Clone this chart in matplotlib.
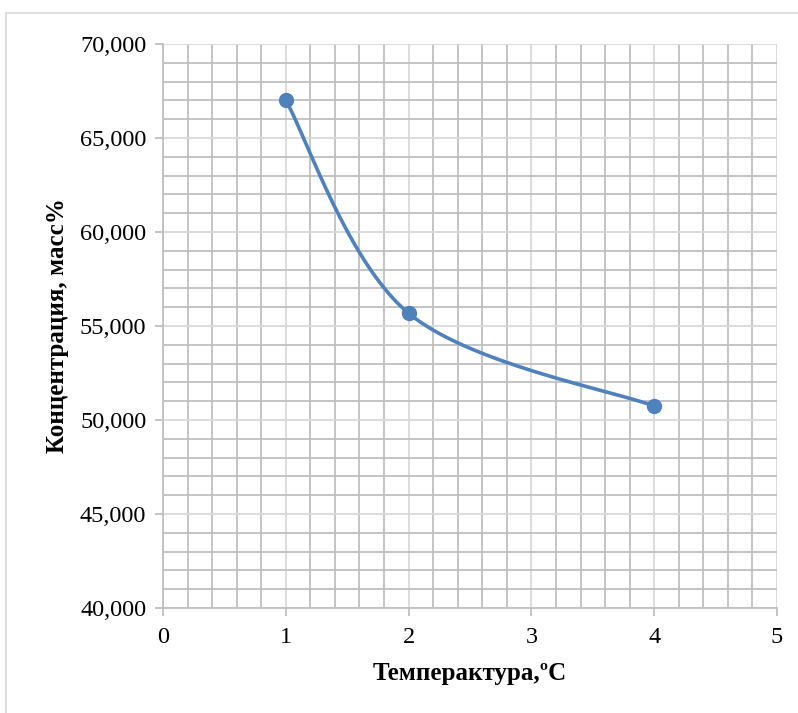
import matplotlib
matplotlib.use('Agg')
import matplotlib.pyplot as plt
import numpy as np
from matplotlib.patches import Rectangle
from matplotlib.ticker import MultipleLocator, FuncFormatter

plt.rcParams['font.family'] = ['Liberation Serif', 'DejaVu Serif']

temp = [1, 2, 4]
conc = [67000, 55680, 50740]


def excel_smooth(x, y, n=60):
    # сглаживание как в Excel (Безье по соседним точкам)
    pts = np.column_stack([x, y]).astype(float)
    ext = np.vstack([pts[0], pts, pts[-1]])
    out = []
    t = np.linspace(0, 1, n)[:, None]
    for i in range(1, len(ext) - 2):
        p0, p1, p2, p3 = ext[i - 1], ext[i], ext[i + 1], ext[i + 2]
        c1 = p1 + (p2 - p0) / 6
        c2 = p2 - (p3 - p1) / 6
        seg = ((1 - t) ** 3) * p1 + 3 * ((1 - t) ** 2) * t * c1 + 3 * (1 - t) * t ** 2 * c2 + t ** 3 * p2
        out.append(seg)
    out = np.vstack(out)
    return out[:, 0], out[:, 1]


fig = plt.figure(figsize=(7.98, 7.13), dpi=100)
fig.patches.append(Rectangle((6 / 798, -0.01), 1.1, 1 - 13 / 713 + 0.01, transform=fig.transFigure,
                             fill=False, edgecolor='#d9d9d9', linewidth=1.2))
ax = fig.add_axes([163 / 798, 1 - 608 / 713, 614 / 798, 564 / 713])

ax.set_xlim(0, 5)
ax.set_ylim(40000, 70000)
ax.xaxis.set_major_locator(MultipleLocator(1))
ax.xaxis.set_minor_locator(MultipleLocator(0.2))
ax.yaxis.set_major_locator(MultipleLocator(5000))
ax.yaxis.set_minor_locator(MultipleLocator(1000))
ax.yaxis.set_major_formatter(FuncFormatter(lambda v, p: '{:,.0f}'.format(v)))

ax.grid(which='minor', color='#bfbfbf', linewidth=1.3)
ax.grid(which='major', color='#d9d9d9', linewidth=1.3)
ax.set_axisbelow(True)

for s in ['top', 'right']:
    ax.spines[s].set_visible(False)
for s in ['left', 'bottom']:
    ax.spines[s].set_color('#bfbfbf')
    ax.spines[s].set_linewidth(1.3)
ax.tick_params(which='major', length=6, color='#bfbfbf', width=1.3, labelsize=17.5, pad=6)
ax.tick_params(which='minor', length=0)
ax.tick_params(axis='x', pad=8)

sx, sy = excel_smooth(temp, conc)
ax.plot(sx, sy, color='#4f81bd', linewidth=2.6, zorder=3)
ax.plot(temp, conc, 'o', color='#4f81bd', markersize=10, zorder=4)

ax.set_xlabel('Темперактура,ºC', fontsize=18, fontweight='bold', labelpad=10)
ax.set_ylabel('Концентрация, масс%', fontsize=18, fontweight='bold', labelpad=8)

fig.savefig('out.png', dpi=100)
